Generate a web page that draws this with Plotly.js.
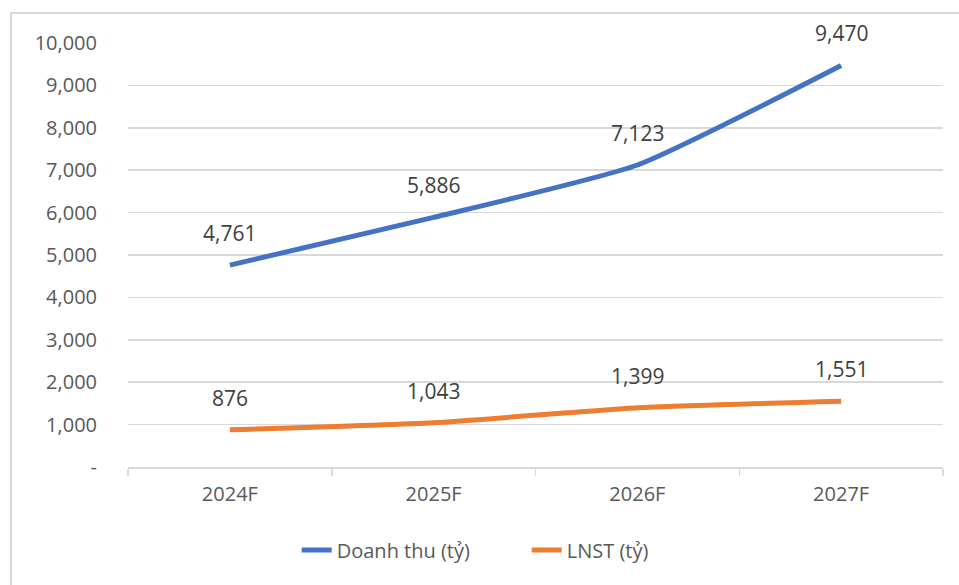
<!DOCTYPE html>
<html>
<head>
<meta charset="utf-8">
<script src="https://cdn.plot.ly/plotly-3.0.1.min.js"></script>
<style>html,body{margin:0;padding:0;background:#fff;}#chart{width:959px;height:585px;}</style>
</head>
<body>
<div id="chart"></div>
<script>
const categories = ["2024F", "2025F", "2026F", "2027F"];
const revenue = [4761, 5886, 7123, 9470];
const profit = [876, 1043, 1399, 1551];
const seriesNames = ["Doanh thu (tỷ)", "LNST (tỷ)"];
const yTickVals = [0, 1000, 2000, 3000, 4000, 5000, 6000, 7000, 8000, 9000, 10000];
const yTickText = ["-", "1,000", "2,000", "3,000", "4,000", "5,000", "6,000", "7,000", "8,000", "9,000", "10,000"];

const fmt = v => v.toLocaleString("en-US");
const FONT = "Open Sans, Noto Sans, sans-serif";

const traces = [
  {x: categories, y: revenue, name: seriesNames[0], type: "scatter", mode: "lines",
   line: {color: "#4472C4", width: 5, shape: "spline", smoothing: 0.5}, cliponaxis: false},
  {x: categories, y: profit, name: seriesNames[1], type: "scatter", mode: "lines",
   line: {color: "#ED7D31", width: 5, shape: "spline", smoothing: 0.5}, cliponaxis: false}
];

const annotations = [];
[revenue, profit].forEach(series => {
  series.forEach((v, i) => {
    annotations.push({x: categories[i], y: v, xref: "x", yref: "y", text: fmt(v),
      showarrow: false, yshift: 32, font: {family: FONT, size: 21, color: "#404040"}});
  });
});

const layout = {
  width: 959, height: 585,
  margin: {l: 128, r: 16, t: 43, b: 118},
  paper_bgcolor: "#ffffff", plot_bgcolor: "#ffffff",
  font: {family: FONT, size: 21, color: "#595959"},
  showlegend: true,
  legend: {orientation: "h", x: 0.207, xanchor: "left", y: -0.196, yanchor: "middle",
    font: {family: FONT, size: 20, color: "#595959"}, traceorder: "normal",
    entrywidth: 185, entrywidthmode: "pixels"},
  xaxis: {type: "category", range: [-0.5, 3.5], tickson: "boundaries", ticks: "outside",
    ticklen: 7, tickcolor: "#d9d9d9", tickwidth: 1.5, showgrid: false, showline: true,
    linecolor: "#d9d9d9", linewidth: 1.5, zeroline: false, ticklabelstandoff: 8,
    tickfont: {family: FONT, size: 20, color: "#595959"}},
  yaxis: {range: [0, 10000], tickmode: "array", tickvals: yTickVals, ticktext: yTickText,
    showgrid: true, gridcolor: "#d9d9d9", gridwidth: 1.5, zeroline: false, showline: false,
    ticks: "outside", ticklen: 26, tickcolor: "rgba(0,0,0,0)",
    tickfont: {family: FONT, size: 20, color: "#595959"}},
  annotations: annotations,
  shapes: [{type: "rect", xref: "paper", yref: "paper", x0: -0.1436, x1: 1.05, y0: -0.35, y1: 1.0708,
    line: {color: "#d9d9d9", width: 2}, fillcolor: "rgba(0,0,0,0)", layer: "above"}]
};

Plotly.newPlot("chart", traces, layout, {displayModeBar: false, staticPlot: true});
</script>
</body>
</html>
